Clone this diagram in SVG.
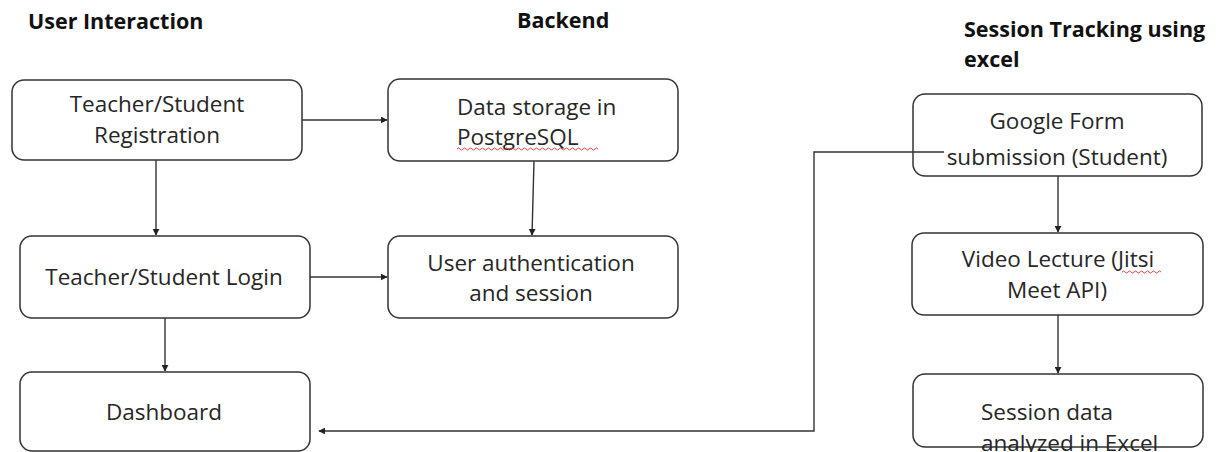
<svg xmlns="http://www.w3.org/2000/svg" width="1218" height="452" viewBox="0 0 1218 452">
  <style>
    .box { fill: #ffffff; stroke: #333333; stroke-width: 1.5; }
    .lbl { font-family: "Open Sans", "Liberation Sans", sans-serif; font-size: 22.5px; fill: #262626; }
    .mid { text-anchor: middle; }
    .head { font-family: "Open Sans", "Liberation Sans", sans-serif; font-size: 21.5px; font-weight: bold; fill: #111111; }
    .wire { fill: none; stroke: #333333; stroke-width: 1.4; }
    .squig { fill: none; stroke: #e03030; stroke-width: 0.9; }
  </style>
  <defs>
    <marker id="arrow" viewBox="0 0 10 10" refX="9" refY="5" markerWidth="7" markerHeight="7" markerUnits="userSpaceOnUse" orient="auto">
      <path d="M0,0 L10,5 L0,10 z" fill="#222222"/>
    </marker>
  </defs>

  <rect width="1218" height="452" fill="#ffffff"/>

  <!-- column headings -->
  <g id="headings">
    <text class="head" x="28" y="29">User Interaction</text>
    <text class="head" x="517" y="28">Backend</text>
    <text class="head" x="964" y="37">Session Tracking using</text>
    <text class="head" x="964" y="67">excel</text>
  </g>

  <!-- connectors -->
  <g id="connectors">
    <line class="wire" x1="302" y1="120" x2="387" y2="120" marker-end="url(#arrow)"/>
    <line class="wire" x1="156" y1="160" x2="156" y2="235" marker-end="url(#arrow)"/>
    <line class="wire" x1="534" y1="161" x2="532" y2="235" marker-end="url(#arrow)"/>
    <line class="wire" x1="310" y1="277" x2="387" y2="277" marker-end="url(#arrow)"/>
    <line class="wire" x1="165" y1="318" x2="165" y2="371" marker-end="url(#arrow)"/>
    <line class="wire" x1="1058" y1="176" x2="1058" y2="232" marker-end="url(#arrow)"/>
    <line class="wire" x1="1058" y1="315" x2="1058" y2="373" marker-end="url(#arrow)"/>
  </g>

  <!-- nodes -->
  <g id="registration">
    <rect class="box" x="12" y="80" width="290" height="80" rx="12"/>
    <text class="lbl mid" x="157" y="112">Teacher/Student</text>
    <text class="lbl mid" x="157" y="143">Registration</text>
  </g>

  <g id="data-storage">
    <rect class="box" x="388" y="79" width="290" height="82" rx="12"/>
    <text class="lbl" x="457" y="115">Data storage in</text>
    <text class="lbl" x="457" y="145">PostgreSQL</text>
    <path class="squig" d="M457,149 q1.5,-2 3,0 t3,0 t3,0 t3,0 t3,0 t3,0 t3,0 t3,0 t3,0 t3,0 t3,0 t3,0 t3,0 t3,0 t3,0 t3,0 t3,0 t3,0 t3,0 t3,0 t3,0 t3,0 t3,0 t3,0 t3,0 t3,0 t3,0 t3,0 t3,0 t3,0 t3,0 t3,0 t3,0 t3,0 t3,0 t3,0 t3,0 t3,0 t3,0 t3,0 t3,0 t3,0 t3,0 t3,0 t3,0 t3,0 t3,0"/>
  </g>

  <g id="login">
    <rect class="box" x="20" y="236" width="290" height="82" rx="12"/>
    <text class="lbl mid" x="164" y="285">Teacher/Student Login</text>
  </g>

  <g id="authentication">
    <rect class="box" x="388" y="236" width="290" height="82" rx="12"/>
    <text class="lbl mid" x="531" y="271">User authentication</text>
    <text class="lbl mid" x="531" y="301">and session</text>
  </g>

  <g id="dashboard">
    <rect class="box" x="20" y="372" width="290" height="79" rx="12"/>
    <text class="lbl mid" x="164" y="420">Dashboard</text>
  </g>

  <g id="google-form">
    <rect class="box" x="913" y="94" width="289" height="82" rx="12"/>
    <text class="lbl mid" x="1057" y="129">Google Form</text>
    <text class="lbl mid" x="1057" y="165">submission (Student)</text>
  </g>

  <g id="video-lecture">
    <rect class="box" x="912" y="233" width="291" height="82" rx="12"/>
    <text class="lbl mid" x="1058" y="267">Video Lecture (Jitsi</text>
    <path class="squig" d="M1122,272 q1.5,-2 3,0 t3,0 t3,0 t3,0 t3,0 t3,0 t3,0 t3,0 t3,0 t3,0 t3,0 t3,0 t3,0"/>
    <text class="lbl mid" x="1057" y="298">Meet API)</text>
  </g>

  <g id="session-data">
    <rect class="box" x="913" y="374" width="290" height="73" rx="12"/>
    <text class="lbl" x="981" y="420">Session data</text>
    <text class="lbl" x="981" y="451">analyzed in Excel</text>
  </g>

  <!-- return path from the form submission back to the dashboard, drawn over the form box -->
  <g id="form-to-dashboard">
    <polyline class="wire" points="944,152 814,152 814,431 319,431" marker-end="url(#arrow)"/>
  </g>
</svg>
